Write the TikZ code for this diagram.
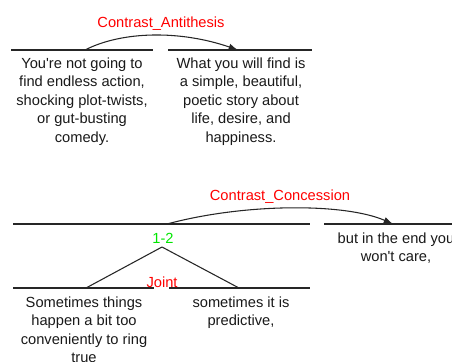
\documentclass[tikz,border=0pt]{standalone}
\usepackage{fontspec}
\setmainfont{Liberation Sans}
\usetikzlibrary{arrows.meta}
\definecolor{relred}{RGB}{255,0,0}
\definecolor{spangreen}{RGB}{0,230,0}
\begin{document}
\begin{tikzpicture}[x=0.75pt,y=-0.75pt,
  seg/.style={draw=black!85, line width=0.8pt},
  relarc/.style={draw=black!85, line width=0.8pt, -{Latex[length=7pt,width=5pt]}},
  txt/.style={anchor=base, align=center, inner sep=0pt, font=\fontsize{11}{13.95}\selectfont, text=black!90},
  rel/.style={anchor=base, inner sep=0pt, font=\fontsize{11}{13.95}\selectfont, text=relred},
  span/.style={anchor=base, inner sep=0pt, font=\fontsize{11}{13.95}\selectfont, text=spangreen}]
\useasboundingbox (0,0) rectangle (452,361);
% ---- top tree ----
\coordinate (l1a) at (11,50); \coordinate (l1b) at (153,50);
\coordinate (l2a) at (168,50); \coordinate (l2b) at (312,50);
\draw[seg] (l1a) -- (l1b);
\draw[seg] (l2a) -- (l2b);
\coordinate (s1) at (85,50); \coordinate (t1) at (238,50);
\draw[relarc] (s1) .. controls (122,31) and (180,30) .. (t1);
\node[rel] (r1) at (161,27) {Contrast\_Antithesis};
% base anchor = last line baseline; first baseline at y=68, pitch 18.6
\node[txt] (n1) at (82,142.4) {You\textquotesingle re not going to\\find endless action,\\shocking plot-twists,\\or gut-busting\\comedy.};
\node[txt] (n2) at (241,142.4) {What you will find is\\a simple, beautiful,\\poetic story about\\life, desire, and\\happiness.};
% ---- bottom tree ----
\coordinate (la) at (13,224); \coordinate (lb) at (310,224);
\coordinate (lc) at (324,224); \coordinate (ld) at (460,224);
\draw[seg] (la) -- (lb);
\draw[seg] (lc) -- (ld);
\coordinate (s2) at (167,224); \coordinate (t2) at (393,224);
\draw[relarc] (s2) .. controls (245,203) and (345,203) .. (t2);
\node[rel] (r2) at (280,200) {Contrast\_Concession};
\node[span] (sp) at (163,243) {1-2};
\node[txt] (n5) at (396,261.6) {but in the end you\\won\textquotesingle t care,};
\coordinate (apex) at (162,247);
\coordinate (j1) at (86,288); \coordinate (j2) at (239,288);
\draw[seg] (apex) -- (j1);
\draw[seg] (apex) -- (j2);
\coordinate (lca) at (13,288); \coordinate (lcb) at (154,288);
\coordinate (lda) at (169,288); \coordinate (ldb) at (310,288);
\draw[seg] (lca) -- (lcb);
\draw[seg] (lda) -- (ldb);
\node[rel] (r3) at (162,287) {Joint};
\node[txt] (n3) at (84,362.8) {Sometimes things\\happen a bit too\\conveniently to ring\\true};
\node[txt] (n4) at (241,325.6) {sometimes it is\\predictive,};
\end{tikzpicture}
\end{document}
